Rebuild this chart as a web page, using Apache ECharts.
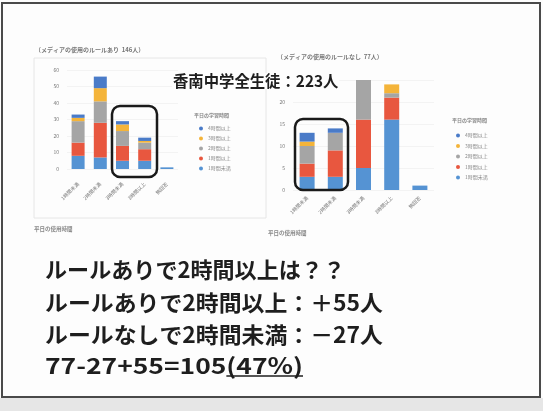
<!DOCTYPE html>
<html><head><meta charset="utf-8">
<script src="https://cdn.jsdelivr.net/npm/echarts@6/dist/echarts.min.js"></script>
<style>html,body{margin:0;padding:0;background:#fff}#c{width:543px;height:411px}</style>
</head><body><div id="c"></div>
<script>
// Categories: weekday media use time
const categories = ['1時間未満', '2時間未満', '3時間未満', '3時間以上', '無回答'];
// Study-time segments (bottom -> top)
const segmentNames = ['1時間未満', '1時間以上', '2時間以上', '3時間以上', '4時間以上'];
const legendOrder = ['4時間以上', '3時間以上', '2時間以上', '1時間以上', '1時間未満'];
const segmentColors = ['#5593D3', '#E8573F', '#A5A5A5', '#F4B43A', '#4A7BC8'];

// Left chart: rule exists (146人)
const ruleUnder1 = [8, 7, 5, 5, 1];
const ruleOver1  = [8, 21, 9, 7, 0];
const ruleOver2  = [13, 13, 9, 4, 0];
const ruleOver3  = [2, 8, 4, 1, 0];
const ruleOver4  = [2, 7, 2, 2, 0];

// Right chart: no rule (77人)
const noRuleUnder1 = [3, 3, 5, 16, 1];
const noRuleOver1  = [3, 6, 11, 5, 0];
const noRuleOver2  = [4, 4, 9, 1, 0];
const noRuleOver3  = [1, 0, 0, 2, 0];
const noRuleOver4  = [2, 1, 0, 0, 0];

const leftTitle = '（メディアの使用のルールあり  146人）';
const rightTitle = '（メディアの使用のルールなし  77人）';
const legendTitle = '平日の学習時間';
const axisTitle = '平日の使用時間';
const bigTitle = '香南中学全生徒：223人';
const lines = ['ルールありで2時間以上は？？', 'ルールありで2時間以上：＋55人', 'ルールなしで2時間未満：－27人', '77-27+55=105(47%)'];
const underlinedPart = '(47%)';

const leftData = [ruleUnder1, ruleOver1, ruleOver2, ruleOver3, ruleOver4];
const rightData = [noRuleUnder1, noRuleOver1, noRuleOver2, noRuleOver3, noRuleOver4];

const FONT = '"Noto Sans CJK JP", "Noto Sans", sans-serif';
const smallLabel = { fontSize: 5, color: '#777', fontFamily: FONT };

const series = [];
[[leftData, 0, 13], [rightData, 1, 15]].forEach(([sets, idx, bw]) => {
  sets.forEach((d, j) => {
    series.push({
      type: 'bar', name: segmentNames[j], stack: 'S' + idx,
      xAxisIndex: idx, yAxisIndex: idx, data: d, barWidth: bw,
      itemStyle: { color: segmentColors[j] },
      emphasis: { disabled: true }
    });
  });
});

const lineFont = 'bold 22px ' + FONT;
const lineY = [270, 303, 335, 366];
const lineRight = [345, 383, 383, 303];
const mctx = document.createElement('canvas').getContext('2d');
mctx.font = lineFont;
const lineX = 45;
const lineGraphics = [];
let underline = null;
lines.forEach((t, i) => {
  const w = mctx.measureText(t).width;
  const s = (lineRight[i] - lineX) / w;
  lineGraphics.push({ type: 'text', z: 40, x: lineX, y: lineY[i], scaleX: s,
    style: { text: t, font: lineFont, fill: '#1e1e1e', verticalAlign: 'middle' } });
  if (t.endsWith(underlinedPart)) {
    const pre = mctx.measureText(t.slice(0, t.length - underlinedPart.length)).width;
    underline = { type: 'line', z: 40, shape: { x1: lineX + pre * s, y1: lineY[i] + 10, x2: lineX + w * s, y2: lineY[i] + 10 },
      style: { stroke: '#1e1e1e', lineWidth: 1.5 } };
  }
});

const chart = echarts.init(document.getElementById('c'), null, { renderer: 'canvas' });
chart.setOption({
  animation: false,
  backgroundColor: '#fdfdfd',
  grid: [
    { left: 67, top: 70, width: 111, height: 99 },
    { left: 293, top: 80, width: 141, height: 110 }
  ],
  xAxis: [
    { type: 'category', gridIndex: 0, data: categories, axisLine: { show: false }, axisTick: { show: false },
      axisLabel: Object.assign({ rotate: 45, margin: 14, interval: 0 }, smallLabel) },
    { type: 'category', gridIndex: 1, data: categories, axisLine: { show: false }, axisTick: { show: false },
      axisLabel: Object.assign({ rotate: 45, margin: 7, interval: 0 }, smallLabel) }
  ],
  yAxis: [
    { type: 'value', gridIndex: 0, min: 0, max: 60, interval: 10,
      axisLabel: Object.assign({ margin: 8 }, smallLabel),
      splitLine: { lineStyle: { color: '#ececec', width: 0.6 } } },
    { type: 'value', gridIndex: 1, min: 0, max: 25, interval: 5,
      axisLabel: Object.assign({ margin: 8 }, smallLabel),
      splitLine: { lineStyle: { color: '#ececec', width: 0.6 } } }
  ],
  legend: [
    { data: legendOrder, orient: 'vertical', left: 194, top: 121, icon: 'circle', itemWidth: 4, itemHeight: 4,
      itemGap: 5, textStyle: { fontSize: 5, color: '#888', fontFamily: FONT }, selectedMode: false },
    { data: legendOrder, orient: 'vertical', left: 451, top: 128, icon: 'circle', itemWidth: 4, itemHeight: 4,
      itemGap: 5.5, textStyle: { fontSize: 5, color: '#888', fontFamily: FONT }, selectedMode: false }
  ],
  series: series,
  graphic: [
    { type: 'rect', z: -10, silent: true, shape: { x: 0, y: 398, width: 543, height: 13 }, style: { fill: '#e6e6e6' } },
    { type: 'rect', z: 50, silent: true, shape: { x: 2, y: 3, width: 538, height: 394 }, style: { fill: null, stroke: '#4a4a4a', lineWidth: 2 } },
    { type: 'rect', z: -5, silent: true, shape: { x: 34, y: 58, width: 232, height: 160 }, style: { fill: null, stroke: '#e6e6e6', lineWidth: 1 } },
    { type: 'text', z: 40, x: 35, y: 50, style: { text: leftTitle, font: 'bold 6px ' + FONT, fill: '#777', verticalAlign: 'middle' } },
    { type: 'text', z: 40, x: 277, y: 57, style: { text: rightTitle, font: 'bold 6px ' + FONT, fill: '#777', verticalAlign: 'middle' } },
    { type: 'text', z: 40, x: 194, y: 115, style: { text: legendTitle, font: 'bold 5px ' + FONT, fill: '#888', verticalAlign: 'middle' } },
    { type: 'text', z: 40, x: 452, y: 120, style: { text: legendTitle, font: 'bold 5px ' + FONT, fill: '#888', verticalAlign: 'middle' } },
    { type: 'text', z: 40, x: 34, y: 229, style: { text: axisTitle, font: 'bold 5.5px ' + FONT, fill: '#888', verticalAlign: 'middle' } },
    { type: 'text', z: 40, x: 268, y: 233, style: { text: axisTitle, font: 'bold 5.5px ' + FONT, fill: '#888', verticalAlign: 'middle' } },
    { type: 'text', z: 60, x: 172, y: 81, scaleX: 0.96, style: { text: bigTitle, font: 'bold 16px ' + FONT, fill: '#1e1e1e', verticalAlign: 'middle', backgroundColor: '#fdfdfd', padding: [0, 1] } },
    { type: 'rect', z: 60, silent: true, shape: { x: 112, y: 106, width: 45, height: 71, r: 8 }, style: { fill: null, stroke: '#1a1a1a', lineWidth: 2.5 } },
    { type: 'rect', z: 60, silent: true, shape: { x: 295, y: 119, width: 53, height: 71, r: 8 }, style: { fill: null, stroke: '#1a1a1a', lineWidth: 2.5 } }
  ].concat(lineGraphics, underline ? [underline] : [])
});
</script></body></html>
